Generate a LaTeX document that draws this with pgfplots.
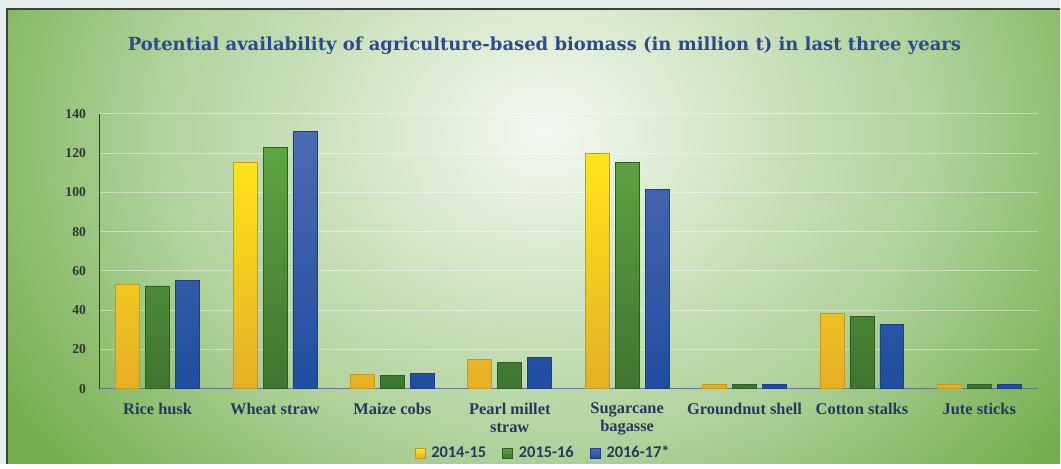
\documentclass[border=0pt]{standalone}
\usepackage{pgfplots}
\usepackage{pgfplotstable}
\pgfplotsset{compat=1.18}
\usepackage{fontspec}
\setmainfont{Liberation Serif}
\newfontfamily\titlefont{DejaVu Serif}
\newfontfamily\legfont{Carlito}

\definecolor{edgegreen}{HTML}{72AE4C}
\definecolor{framebg}{HTML}{E3ECE8}
\definecolor{navy}{HTML}{27385E}
\definecolor{titleblue}{HTML}{2C4B8E}
\definecolor{ytop}{HTML}{FFE619}
\definecolor{ybot}{HTML}{E6AE26}
\definecolor{ydraw}{HTML}{C49A22}
\definecolor{gtop}{HTML}{5EA540}
\definecolor{gbot}{HTML}{3E7530}
\definecolor{gdraw}{HTML}{2F5E24}
\definecolor{btop}{HTML}{4B6BB4}
\definecolor{bbot}{HTML}{1F4DA0}
\definecolor{bdraw}{HTML}{1C3F85}

% path radius = 25bp
\pgfdeclareradialshading{bgglow}{\pgfpoint{0bp}{0bp}}{%
  color(0bp)=(white!92!edgegreen); color(4bp)=(white!76!edgegreen);
  color(9bp)=(white!56!edgegreen); color(12bp)=(white!45!edgegreen);
  color(15.5bp)=(white!25!edgegreen); color(20bp)=(edgegreen);
  color(50bp)=(edgegreen)}

% biomass, million t
\pgfplotstableread{
x  a     b     c
0  53.0  52.3  55.0
1  115.4 123.0 130.9
2  7.1   6.8   7.6
3  15.1  13.2  16.1
4  119.7 115.2 101.3
5  2.4   2.0   2.0
6  38.5  36.8  32.6
7  2.4   2.0   2.0
}\biomass

\begin{document}
\begin{tikzpicture}
% background frame and glow
\fill[framebg] (0,0) rectangle (530.5pt,232pt);
\begin{scope}
  \clip (3.5pt,0) rectangle (530.5pt,227.5pt);
  \fill[edgegreen] (3.5pt,0) rectangle (530.5pt,227.5pt);
  \shade[shading=bgglow] (272.5pt,167pt) ellipse [x radius=400pt, y radius=330pt];
\end{scope}
\draw[line width=1pt, black!75] (3.5pt,0) -- (3.5pt,227.5pt) -- (530.5pt,227.5pt);

\node[font=\titlefont\bfseries\fontsize{9}{11}\selectfont, text=titleblue]
  at (272.5pt,209pt) {Potential availability of agriculture-based biomass (in million t) in last three years};

\begin{axis}[
    at={(49.5pt,37.5pt)}, anchor=south west,
    scale only axis,
    width=470pt, height=137.5pt,
    xmin=-0.5, xmax=7.5,
    ymin=0, ymax=140,
    ytick={0,20,...,140},
    xtick=data,
    xticklabels={Rice husk, Wheat straw, Maize cobs, {Pearl millet\\straw}, {Sugarcane\\bagasse}, Groundnut shell, Cotton stalks, Jute sticks},
    axis x line*=bottom, axis y line*=left,
    x axis line style={draw=navy!70, -}, y axis line style={draw=navy, -},
    major tick length=0pt,
    ymajorgrids, grid style={white, opacity=0.4, line width=0.4pt},
    ybar=3pt, bar width=12pt,
    yticklabel style={font=\bfseries\fontsize{6.8}{8}\selectfont, text=black!80, xshift=-3pt},
    xticklabel style={font=\bfseries\fontsize{8.2}{9.2}\selectfont, text=navy, align=center, yshift=-3.5pt},
    /pgf/number format/assume math mode=true,
    legend columns=3,
    legend style={at={(0.474,-0.235)}, anchor=center, draw=none, fill=none,
      font=\legfont\bfseries\fontsize{8.2}{9}\selectfont, text=navy,
      /tikz/every odd column/.append style={column sep=1pt},
      /tikz/every even column/.append style={column sep=6pt}},
    legend image code/.code={\draw[#1] (0pt,-2.5pt) rectangle (5pt,2.5pt);},
]
\addplot[draw=ydraw, top color=ytop, bottom color=ybot] table[x=x, y=a] {\biomass};
\addlegendentry{2014-15}
\addplot[draw=gdraw, top color=gtop, bottom color=gbot] table[x=x, y=b] {\biomass};
\addlegendentry{2015-16}
\addplot[draw=bdraw, top color=btop, bottom color=bbot] table[x=x, y=c] {\biomass};
\addlegendentry{2016-17*}
\end{axis}
\end{tikzpicture}
\end{document}
